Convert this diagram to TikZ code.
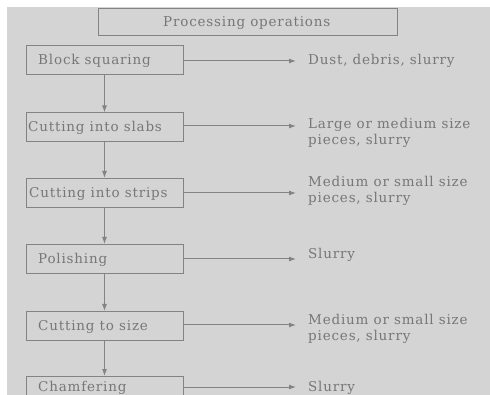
\documentclass[tikz,border=0pt]{standalone}
\usepackage{fontspec}
\setmainfont{DejaVu Serif}[LetterSpace=6]
\usetikzlibrary{arrows.meta}
\definecolor{bg}{HTML}{D4D4D4}
\definecolor{ln}{HTML}{838383}
\definecolor{tx}{HTML}{777777}
\tikzset{
  box/.style={draw=ln, line width=1pt, fill=bg, minimum width=157pt, minimum height=29pt, inner sep=0pt},
  lab/.style={text=tx, font=\fontsize{13.5}{16}\selectfont, inner sep=0pt, anchor=west, align=left},
  conn/.style={draw=ln, line width=1pt, -{Latex[length=7pt,width=5pt]}},
}
\begin{document}
\begin{tikzpicture}[x=1pt,y=-1pt]
\useasboundingbox (0,0) rectangle (490,395);
\fill[white] (0,0) rectangle (490,395);
\fill[bg] (7,7) rectangle (490,395);
\clip (0,0) rectangle (490,395);
\node[box, minimum width=299pt, minimum height=27pt] (title) at (247.5,22.5) {};
\node[lab] (titlet) at (163,23) {Processing operations};

\node[box] (b1) at (104.5,60.5) {};
\node[box] (b2) at (104.5,127.5) {};
\node[box] (b3) at (104.5,193) {};
\node[box] (b4) at (104.5,259) {};
\node[box] (b5) at (104.5,326) {};
\node[box] (b6) at (104.5,391) {};

\node[lab] (t1) at (38,61) {Block squaring};
\node[lab] (t2) at (28,128) {Cutting into slabs};
\node[lab] (t3) at (29,194) {Cutting into strips};
\node[lab] (t4) at (38,260) {Polishing};
\node[lab] (t5) at (38,327) {Cutting to size};
\node[lab] (t6) at (38,388) {Chamfering};

\coordinate (e1) at (296,61);
\coordinate (e2) at (296,126);
\coordinate (e3) at (296,193);
\coordinate (e4) at (296,259);
\coordinate (e5) at (296,325);
\coordinate (e6) at (296,387);

\draw[conn] (b1.east |- e1) -- (e1);
\draw[conn] (b2.east |- e2) -- (e2);
\draw[conn] (b3.east |- e3) -- (e3);
\draw[conn] (b4.east |- e4) -- (e4);
\draw[conn] (b5.east |- e5) -- (e5);
\draw[conn] (b6.east |- e6) -- (e6);

\draw[conn] (b1) -- (b2);
\draw[conn] (b2) -- (b3);
\draw[conn] (b3) -- (b4);
\draw[conn] (b4) -- (b5);
\draw[conn] (b5) -- (b6);

\node[lab] (r1) at (308,61) {Dust, debris, slurry};
\node[lab] (r2) at (308,133) {Large or medium size\\pieces, slurry};
\node[lab] (r3) at (308,191) {Medium or small size\\pieces, slurry};
\node[lab] (r4) at (308,255) {Slurry};
\node[lab] (r5) at (308,329) {Medium or small size\\pieces, slurry};
\node[lab] (r6) at (308,388) {Slurry};
\end{tikzpicture}
\end{document}
